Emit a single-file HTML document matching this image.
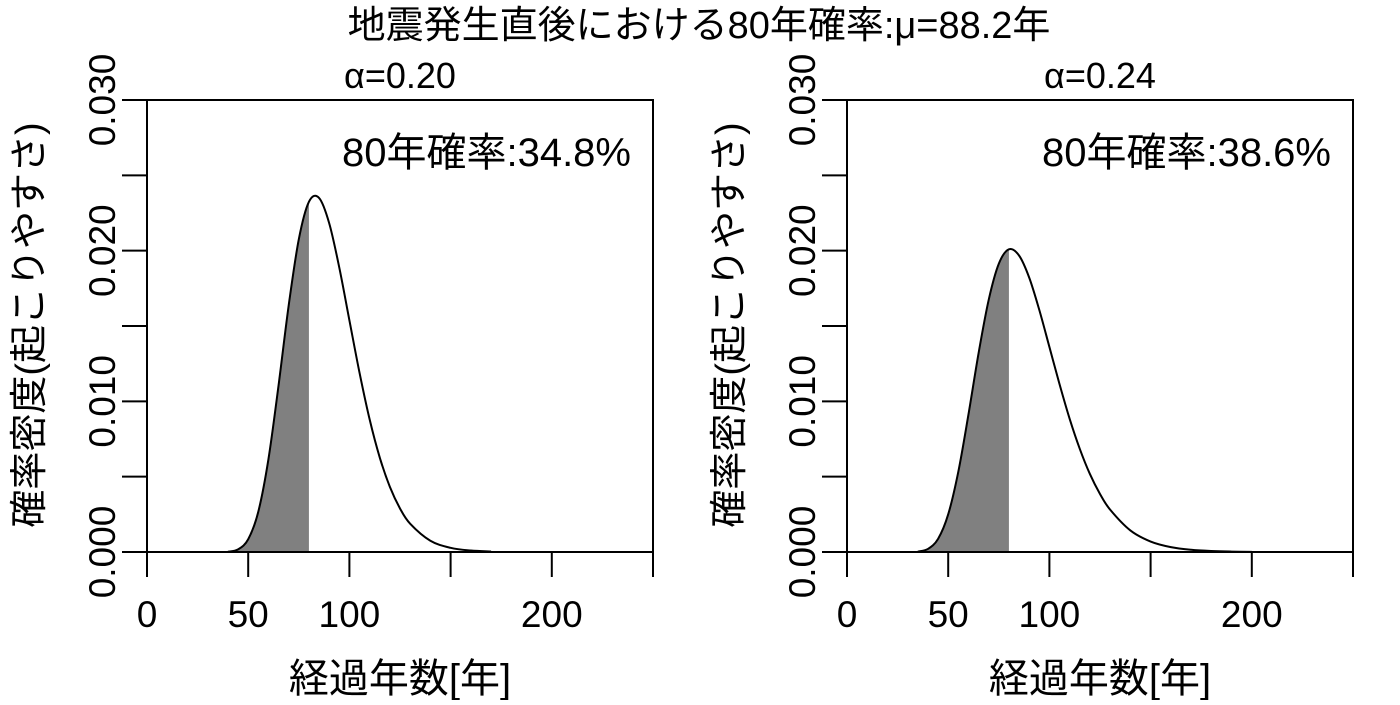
<!DOCTYPE html>
<html><head><meta charset="utf-8"><style>
html,body{margin:0;padding:0;background:#fff;}
svg text{font-family:"Liberation Sans","Noto Sans CJK JP",sans-serif;fill:#000;}
</style></head><body>
<svg id="chart" width="1400" height="700" xmlns="http://www.w3.org/2000/svg">
<text x="699" y="38" font-size="38" text-anchor="middle">地震発生直後における80年確率:μ=88.2年</text>
</svg>
<script>
const tValsA=[40,45,50,55,60,65,70,75,80,85,90,95,100,105,110,115,120,125,130,140,150,160,170];
const densA=[0.00002,0.000174,0.000848,0.00268,0.00616,0.01106,0.01636,0.02075,0.02324,0.02350,0.02183,0.01888,0.01538,0.01190,0.00880,0.00627,0.00432,0.00289,0.00188,0.000748,0.000277,0.0000964,0.000032];
const tValsB=[35,40,45,50,55,60,65,70,75,80,85,90,95,100,105,110,115,120,125,130,140,150,160,170,180,190,200];
const densB=[0.000026,0.000203,0.000872,0.0025,0.00533,0.00912,0.01319,0.01673,0.01913,0.02009,0.01968,0.01822,0.01607,0.01361,0.01114,0.00884,0.00685,0.00518,0.00385,0.00281,0.00143,0.000694,0.000324,0.000147,0.0000644,0.000028,0.000012];
const alphaLabels=["α=0.20","α=0.24"];
const probLabels=["80年確率:34.8%","80年確率:38.6%"];
const cutoff=80;
const xTicks=[0,50,100,150,200,250];
const xTickLabels=["0","50","100","","200",""];
const yTicks=[0,0.005,0.01,0.015,0.02,0.025,0.03];
const yTickLabels=["0.000","","0.010","","0.020","","0.030"];
const svg=document.getElementById('chart');
const NS="http://www.w3.org/2000/svg";
function mk(tag,attrs,parent){const e=document.createElementNS(NS,tag);for(const k in attrs)e.setAttribute(k,attrs[k]);(parent||svg).appendChild(e);return e;}
function interp(ts,ds,t){for(let i=0;i<ts.length-1;i++){if(t>=ts[i]&&t<=ts[i+1]){const f=(t-ts[i])/(ts[i+1]-ts[i]);return ds[i]+f*(ds[i+1]-ds[i]);}}return 0;}
function smoothPath(pts){let d="M"+pts[0][0]+","+pts[0][1];for(let i=0;i<pts.length-1;i++){const p0=pts[i-1]||pts[i],p1=pts[i],p2=pts[i+1],p3=pts[i+2]||p2;const c1x=p1[0]+(p2[0]-p0[0])/6,c1y=p1[1]+(p2[1]-p0[1])/6,c2x=p2[0]-(p3[0]-p1[0])/6,c2y=p2[1]-(p3[1]-p1[1])/6;d+=" C"+c1x+","+c1y+" "+c2x+","+c2y+" "+p2[0]+","+p2[1];}return d;}
function panel(off,ts,ds,idx){
  const x0=147+off,x1=653+off,y0=552,y1=100;
  const xs=t=>x0+t*(x1-x0)/250;
  const ys=v=>y0-v*(y0-y1)/0.03;
  const g=mk('g',{});
  
  
  const shadePts=[];
  for(let i=0;i<ts.length;i++){if(ts[i]<cutoff)shadePts.push([xs(ts[i]),ys(ds[i])]);}
  shadePts.push([xs(cutoff),ys(interp(ts,ds,cutoff))]);
  let sd=smoothPath(shadePts)+" L"+xs(cutoff)+","+ys(0)+" L"+xs(ts[0])+","+ys(0)+" Z";
  const sh=mk('path',{d:sd,fill:'#808080',stroke:'none'},g);
  
  
  const pts=ts.map((t,i)=>[xs(t),ys(ds[i])]);
  const ln=mk('path',{d:smoothPath(pts),fill:'none',stroke:'#000','stroke-width':2},g);
  
  
  const fr=mk('path',{d:`M${x0-25},${y1} H${x1} V${y0} H${x0-25} M${x0},${y1} V${y0}`,fill:'none',stroke:'#000','stroke-width':2},g);
  
  
  xTicks.forEach((t,i)=>{
    const tk=mk('line',{x1:xs(t),x2:xs(t),y1:y0,y2:y0+25,stroke:'#000','stroke-width':2},g);
    
    
    if(xTickLabels[i]){const tl=mk('text',{x:xs(t),y:627,'font-size':37,'text-anchor':'middle'},g);tl.textContent=xTickLabels[i];
    
    }
  });
  yTicks.forEach((v,i)=>{
    const tk=mk('line',{x1:x0-25,x2:x0,y1:ys(v),y2:ys(v),stroke:'#000','stroke-width':2},g);
    
    
    if(yTickLabels[i]){const tl=mk('text',{x:0,y:0,'font-size':37,'text-anchor':'middle',transform:`translate(${x0-32},${ys(v)}) rotate(-90)`},g);tl.textContent=yTickLabels[i];
    
    }
  });
  const at=mk('text',{x:(x0+x1)/2,y:88,'font-size':36,'text-anchor':'middle'},g);at.textContent=alphaLabels[idx];
  
  
  const pt=mk('text',{x:x1-22,y:166,'font-size':40,'text-anchor':'end'},g);pt.textContent=probLabels[idx];
  
  
  const xt=mk('text',{x:(x0+x1)/2,y:692,'font-size':40,'text-anchor':'middle'},g);xt.textContent='経過年数[年]';
  
  
  const yt=mk('text',{x:0,y:0,'font-size':38,'text-anchor':'middle',transform:`translate(${off+42},${325}) rotate(-90)`},g);yt.textContent='確率密度(起こりやすさ)';
  
  
}
panel(0,tValsA,densA,0);
panel(700,tValsB,densB,1);
</script>
</body></html>
